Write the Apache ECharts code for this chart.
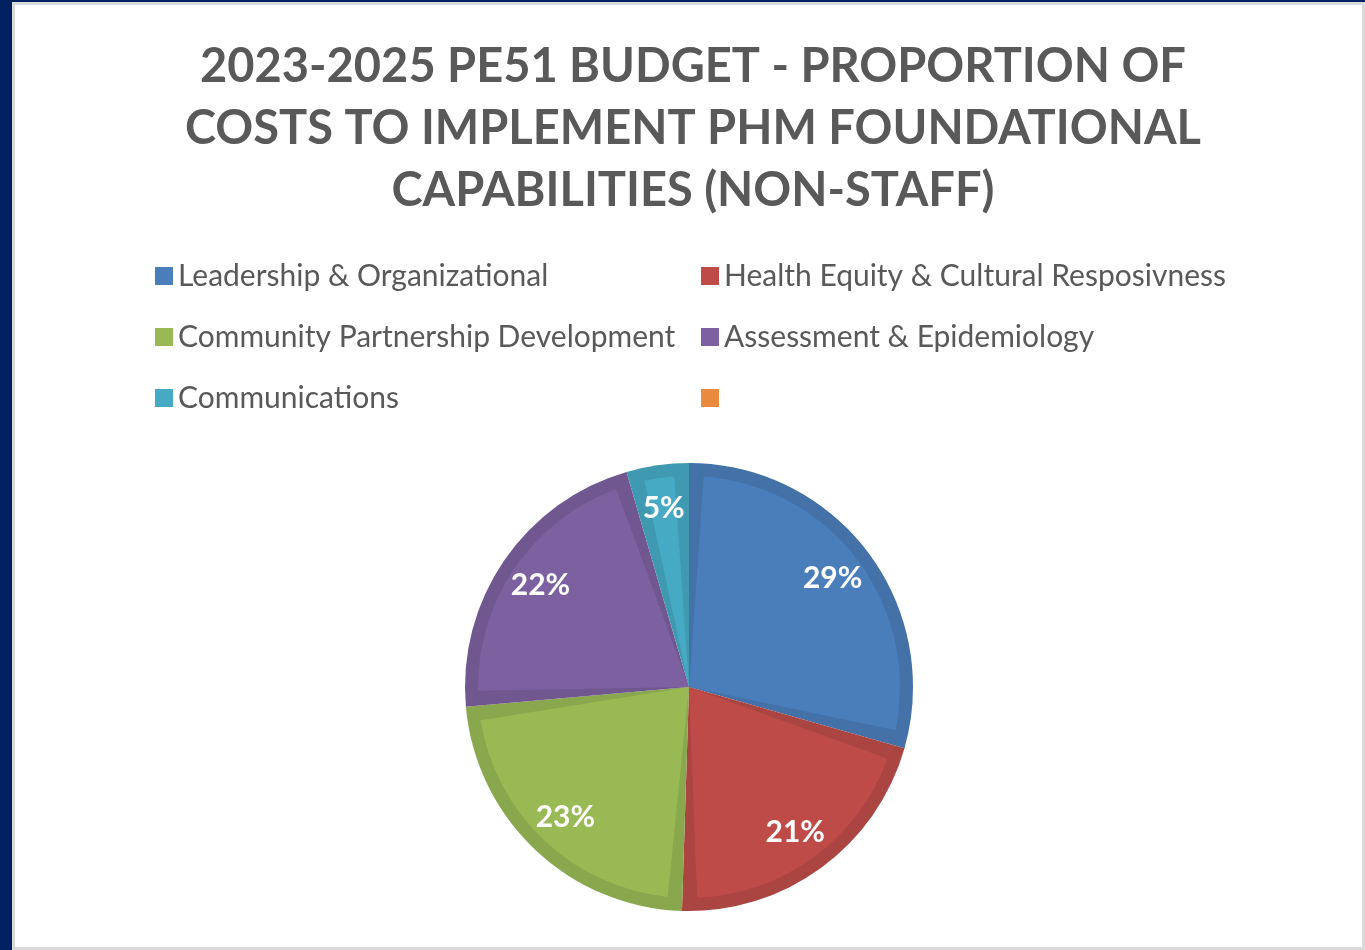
<!DOCTYPE html>
<html>
<head>
<meta charset="utf-8">
<script src="https://cdn.jsdelivr.net/npm/echarts@6/dist/echarts.min.js"></script>
<style>
html,body{margin:0;padding:0;background:#ffffff;}
#chart{width:1365px;height:950px;}
</style>
</head>
<body>
<div id="chart"></div>
<script>
// ---- data ----
const titleLines = [
  '2023-2025 PE51 BUDGET - PROPORTION OF',
  'COSTS TO IMPLEMENT PHM FOUNDATIONAL',
  'CAPABILITIES (NON-STAFF)'
];
const categories = [
  'Leadership & Organizational',
  'Health Equity & Cultural Resposivness',
  'Community Partnership Development',
  'Assessment & Epidemiology',
  'Communications',
  ' '
];
const shares = [29.4, 21.1, 23.1, 21.9, 4.5, null];
const fillColors = ['#4a7ebb', '#be4b48', '#98b954', '#7d60a0', '#46aac5', '#e98a3e'];
const edgeColors = ['#4371a8', '#ab4542', '#89a74d', '#71578f', '#3f99b1', '#d67c36'];

// ---- build ----
const cx = 689, cy = 687, R = 224;
function mk(colors) {
  return categories.map((name, i) => ({
    name: name,
    value: shares[i] === null ? '-' : shares[i],
    itemStyle: { color: colors[i] }
  }));
}
const legendLeft = [0, 2, 4].map(i => ({ name: categories[i], itemStyle: { color: fillColors[i] } }));
const legendRight = [1, 3, 5].map(i => ({ name: categories[i], itemStyle: { color: fillColors[i] } }));
const legendText = { color: '#595959', fontSize: 30, fontFamily: 'Lato', lineHeight: 30 };

const chart = echarts.init(document.getElementById('chart'), null, { renderer: 'canvas' });
chart.setOption({
  backgroundColor: '#ffffff',
  animation: false,
  graphic: [
    { type: 'rect', z: -10, shape: { x: 12, y: 2, width: 1353, height: 948 }, style: { fill: '#d9d9d9' }, silent: true },
    { type: 'rect', z: -9, shape: { x: 15, y: 5, width: 1347, height: 942 }, style: { fill: '#ffffff' }, silent: true },
    { type: 'rect', z: -8, shape: { x: 0, y: 0, width: 12, height: 950 }, style: { fill: '#002060' }, silent: true },
    { type: 'rect', z: -8, shape: { x: 0, y: 0, width: 1365, height: 2 }, style: { fill: '#002060' }, silent: true }
  ],
  title: {
    text: titleLines.join('\n'),
    left: 688,
    top: 31,
    textAlign: 'center',
    textStyle: { color: '#595959', fontSize: 47, fontWeight: 'bold', fontFamily: 'Lato', lineHeight: 62 }
  },
  legend: [
    {
      orient: 'vertical', left: 150, top: 256, itemWidth: 18, itemHeight: 18, itemGap: 31, itemTextGap: 9,
      icon: 'rect', data: legendLeft, textStyle: legendText, selectedMode: false
    },
    {
      orient: 'vertical', left: 696, top: 256, itemWidth: 18, itemHeight: 18, itemGap: 31, itemTextGap: 9,
      icon: 'rect', data: legendRight, textStyle: legendText, selectedMode: false
    }
  ],
  series: [
    {
      name: 'base', type: 'pie', z: 1, center: [cx, cy], radius: [0, R], startAngle: 90, clockwise: true,
      silent: true, label: { show: false }, labelLine: { show: false }, data: mk(edgeColors)
    },
    {
      name: 'fill', type: 'pie', z: 2, center: [cx, cy], radius: [0, R - 13], startAngle: 90, clockwise: true,
      padAngle: 8, silent: true, label: { show: false }, labelLine: { show: false }, data: mk(fillColors)
    },
    {
      name: 'labels', type: 'pie', z: 3, center: [cx, cy], radius: [130, R], startAngle: 90, clockwise: true,
      silent: true, itemStyle: { color: 'rgba(0,0,0,0)' },
      label: {
        show: true, position: 'inside', color: '#ffffff', fontSize: 30, fontWeight: 'bold', fontFamily: 'Lato',
        formatter: p => Math.round(p.percent) + '%'
      },
      labelLine: { show: false },
      data: categories.map((name, i) => ({ name: name, value: shares[i] === null ? '-' : shares[i] }))
    }
  ]
});
</script>
</body>
</html>
